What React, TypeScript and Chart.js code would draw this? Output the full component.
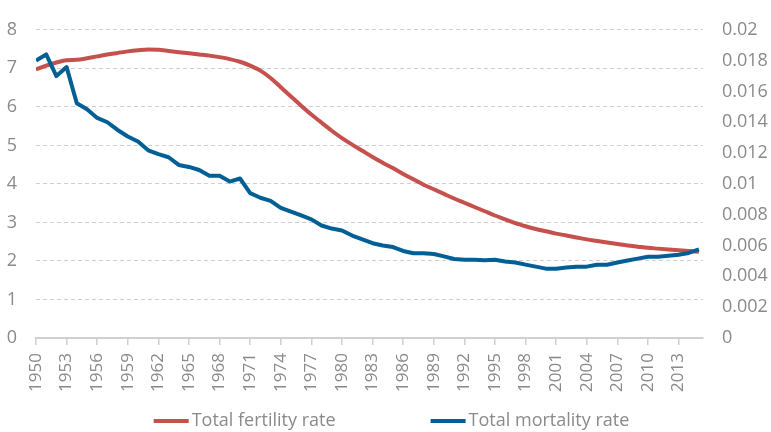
import React, { useEffect, useRef } from "react";
import { Chart, registerables } from "chart.js";

Chart.register(...registerables);

const years: number[] = Array.from({ length: 66 }, (_, i) => 1950 + i);

const fertilityRate: number[] = [
  6.97, 7.07, 7.15, 7.21, 7.22, 7.26, 7.31, 7.36, 7.40, 7.44,
  7.47, 7.49, 7.48, 7.45, 7.42, 7.39, 7.36, 7.33, 7.29, 7.24,
  7.17, 7.07, 6.94, 6.75, 6.51, 6.27, 6.03, 5.80, 5.59, 5.38,
  5.19, 5.02, 4.86, 4.70, 4.55, 4.41, 4.26, 4.12, 3.98, 3.86,
  3.74, 3.62, 3.51, 3.40, 3.29, 3.18, 3.08, 2.98, 2.90, 2.83,
  2.77, 2.71, 2.66, 2.61, 2.56, 2.52, 2.48, 2.44, 2.40, 2.37,
  2.34, 2.32, 2.30, 2.28, 2.26, 2.24,
];

const mortalityRate: number[] = [
  0.0180, 0.0184, 0.0170, 0.01758, 0.01523, 0.01485, 0.01428, 0.0140, 0.0135, 0.01308,
  0.01275, 0.01218, 0.01193, 0.01173, 0.01123, 0.0111, 0.0109, 0.01053, 0.01053, 0.01015,
  0.01035, 0.0094, 0.0091, 0.0089, 0.00845, 0.0082, 0.00795, 0.0077, 0.0073, 0.0071,
  0.00698, 0.00665, 0.0064, 0.00615, 0.0060, 0.0059, 0.00565, 0.0055, 0.0055, 0.00545,
  0.0053, 0.00513, 0.00508, 0.00507, 0.00505, 0.00508, 0.00497, 0.0049, 0.00476, 0.00463,
  0.0045, 0.0045, 0.00458, 0.00463, 0.00463, 0.00475, 0.00475, 0.0049, 0.00503, 0.00515,
  0.00527, 0.00527, 0.00533, 0.0054, 0.00552, 0.00575,
];

const seriesNames: string[] = ["Total fertility rate", "Total mortality rate"];
const seriesColors: string[] = ["#C5504C", "#005F95"];

const TEXT = "#8A8A8A";
const FONT = "'Open Sans', 'Noto Sans', sans-serif";

const customLegend = {
  id: "customLegend",
  afterDraw(chart: any) {
    const ctx = chart.ctx;
    ctx.save();
    ctx.font = `18px ${FONT}`;
    ctx.textBaseline = "middle";
    ctx.textAlign = "left";
    const lineLen = 35;
    const textGap = 3;
    const itemGap = 95;
    const widths = seriesNames.map((n) => lineLen + textGap + ctx.measureText(n).width);
    const total = widths.reduce((a, b) => a + b, 0) + itemGap * (widths.length - 1);
    let x = (chart.width - total) / 2 + 6;
    const y = 421;
    seriesNames.forEach((name, i) => {
      ctx.strokeStyle = seriesColors[i];
      ctx.lineWidth = 4;
      ctx.beginPath();
      ctx.moveTo(x, y);
      ctx.lineTo(x + lineLen, y);
      ctx.stroke();
      ctx.fillStyle = TEXT;
      ctx.fillText(name, x + lineLen + textGap, y);
      x += widths[i] + itemGap;
    });
    ctx.restore();
  },
};

export default function App() {
  const ref = useRef<HTMLCanvasElement | null>(null);
  useEffect(() => {
    if (!ref.current) return;
    const chart = new Chart(ref.current, {
      type: "line",
      data: {
        datasets: [
          {
            label: seriesNames[0],
            data: years.map((y, i) => ({ x: y, y: fertilityRate[i] })),
            borderColor: seriesColors[0],
            backgroundColor: seriesColors[0],
            borderWidth: 4,
            pointRadius: 0,
            cubicInterpolationMode: "monotone",
            yAxisID: "y",
            order: 1,
          },
          {
            label: seriesNames[1],
            data: years.map((y, i) => ({ x: y, y: mortalityRate[i] })),
            borderColor: seriesColors[1],
            backgroundColor: seriesColors[1],
            borderWidth: 4,
            pointRadius: 0,
            tension: 0,
            borderJoinStyle: "round",
            yAxisID: "y2",
            order: 0,
          },
        ],
      },
      options: {
        animation: false,
        responsive: true,
        maintainAspectRatio: false,
        layout: { padding: { top: 23, left: 0, right: 0, bottom: 0 } },
        plugins: {
          legend: { display: false },
          tooltip: { enabled: false },
        },
        scales: {
          x: {
            type: "linear",
            min: 1950,
            max: 2015.4,
            afterFit: (s: any) => {
              s.height = 94;
            },
            grid: {
              drawOnChartArea: false,
              drawTicks: true,
              tickLength: 7,
              color: "#D0D0D0",
              lineWidth: 1.5,
            },
            border: { display: true, color: "#D0D0D0", width: 2 },
            ticks: {
              stepSize: 3,
              includeBounds: false,
              autoSkip: false,
              maxRotation: 90,
              minRotation: 90,
              padding: 8,
              color: TEXT,
              font: { family: FONT, size: 17 },
              callback: (v: any) => String(v),
            },
          },
          y: {
            position: "left",
            min: 0,
            max: 8,
            afterFit: (s: any) => {
              s.width = 36;
            },
            grid: {
              color: "#CFCFCF",
              lineWidth: 1,
              drawTicks: false,
            },
            border: { display: false, dash: [4, 3] },
            ticks: {
              stepSize: 1,
              padding: 19,
              color: TEXT,
              font: { family: FONT, size: 18 },
            },
          },
          y2: {
            position: "right",
            min: 0,
            max: 0.02,
            afterFit: (s: any) => {
              s.width = 68;
            },
            grid: { drawOnChartArea: false, drawTicks: false },
            border: { display: false },
            ticks: {
              stepSize: 0.002,
              padding: 19,
              color: TEXT,
              font: { family: FONT, size: 18 },
              callback: (v: any) => String(+Number(v).toFixed(3)),
            },
          },
        },
      },
      plugins: [customLegend],
    });
    return () => chart.destroy();
  }, []);

  return (
    <div style={{ position: "fixed", left: 0, top: 0, width: 771, height: 432 }}>
      <canvas ref={ref} />
    </div>
  );
}
